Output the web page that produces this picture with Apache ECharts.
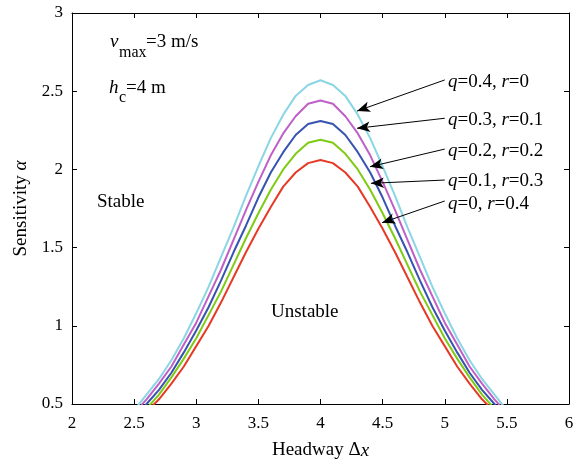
<!DOCTYPE html>
<html lang="en">
<head>
    <meta charset="UTF-8">
    <title>Sensitivity vs headway</title>
    <style>
        html,body{
            margin: 0;
            width: 100%;
            height: 100%;
            background: #fff;
        }
        #chart{
            width: 580px;
            height: 460px;
        }
    </style>
</head>
<body>
<div id="chart"></div>
<script src="https://cdn.jsdelivr.net/npm/echarts@6/dist/echarts.min.js"></script>
<script type="text/javascript">
    var serif = "'Liberation Serif', 'Times New Roman', serif";

    // headway Δx (m)
    var headway = [2.5, 2.6, 2.7, 2.8, 2.9, 3.0, 3.1, 3.2, 3.3, 3.4, 3.5, 3.6, 3.7, 3.8, 3.9, 4.0,
        4.1, 4.2, 4.3, 4.4, 4.5, 4.6, 4.7, 4.8, 4.9, 5.0, 5.1, 5.2, 5.3, 5.4, 5.5];

    // critical sensitivity for each (q, r)
    var alphaQ04 = [0.46, 0.56, 0.66, 0.78, 0.92, 1.08, 1.25, 1.44, 1.63, 1.83, 2.02, 2.20, 2.35, 2.47, 2.54, 2.57,
        2.54, 2.47, 2.35, 2.20, 2.02, 1.83, 1.63, 1.44, 1.25, 1.08, 0.92, 0.78, 0.66, 0.56, 0.46];
    var alphaQ03 = [0.44, 0.53, 0.63, 0.74, 0.88, 1.02, 1.19, 1.36, 1.55, 1.74, 1.92, 2.09, 2.23, 2.34, 2.42, 2.44,
        2.42, 2.34, 2.23, 2.09, 1.92, 1.74, 1.55, 1.36, 1.19, 1.02, 0.88, 0.74, 0.63, 0.53, 0.44];
    var alphaQ02 = [0.42, 0.50, 0.59, 0.70, 0.83, 0.97, 1.12, 1.29, 1.47, 1.64, 1.82, 1.98, 2.11, 2.22, 2.29, 2.31,
        2.29, 2.22, 2.11, 1.98, 1.82, 1.64, 1.47, 1.29, 1.12, 0.97, 0.83, 0.70, 0.59, 0.50, 0.42];
    var alphaQ01 = [0.40, 0.47, 0.56, 0.67, 0.79, 0.92, 1.07, 1.22, 1.39, 1.56, 1.72, 1.87, 2.00, 2.10, 2.17, 2.19,
        2.17, 2.10, 2.00, 1.87, 1.72, 1.56, 1.39, 1.22, 1.07, 0.92, 0.79, 0.67, 0.56, 0.47, 0.40];
    var alphaQ00 = [0.37, 0.45, 0.53, 0.63, 0.74, 0.87, 1.00, 1.15, 1.31, 1.47, 1.62, 1.76, 1.89, 1.98, 2.04, 2.06,
        2.04, 1.98, 1.89, 1.76, 1.62, 1.47, 1.31, 1.15, 1.00, 0.87, 0.74, 0.63, 0.53, 0.45, 0.37];

    var seriesNames = ['q=0.4, r=0', 'q=0.3, r=0.1', 'q=0.2, r=0.2', 'q=0.1, r=0.3', 'q=0, r=0.4'];
    var seriesColors = ['#8ad6e4', '#bf5fc8', '#3653b0', '#7fcb14', '#e63a26'];
    var seriesValues = [alphaQ04, alphaQ03, alphaQ02, alphaQ01, alphaQ00];

    // arrows: label end -> curve end (data coords)
    var arrowFrom = [[5.00, 2.572], [5.00, 2.327], [5.00, 2.130], [5.00, 1.932], [5.00, 1.798]];
    var arrowTo = [[4.294, 2.373], [4.294, 2.263], [4.398, 2.017], [4.406, 1.911], [4.495, 1.659]];

    function pairs(xs, ys) {
        var out = [];
        for (var i = 0; i < xs.length; i++) {
            out.push([xs[i], ys[i]]);
        }
        return out;
    }

    var richStyle = {
        n: {fontFamily: serif, fontSize: 19, color: '#000'},
        i: {fontFamily: serif, fontSize: 19, fontStyle: 'italic', color: '#000'}
    };

    function qrLabel(q, r) {
        return '{i|q}{n|=' + q + ', }{i|r}{n|=' + r + '}';
    }

    var arrowLines = [];
    for (var k = 0; k < arrowFrom.length; k++) {
        arrowLines.push([{coord: arrowFrom[k]}, {coord: arrowTo[k]}]);
    }

    var series = [];
    for (var s = 0; s < seriesValues.length; s++) {
        series.push({
            name: seriesNames[s],
            type: 'line',
            symbol: 'none',
            smooth: false,
            clip: true,
            lineStyle: {color: seriesColors[s], width: 2},
            data: pairs(headway, seriesValues[s])
        });
    }
    series[series.length - 1].markLine = {
        silent: true,
        animation: false,
        symbol: ['none', 'arrow'],
        symbolSize: [8, 13],
        label: {show: false},
        lineStyle: {color: '#000', width: 1, type: 'solid'},
        data: arrowLines
    };

    function textEl(x, y, txt, size, italic) {
        return {
            type: 'text',
            x: x,
            y: y,
            style: {
                text: txt,
                fill: '#000',
                fontFamily: serif,
                fontSize: size,
                fontStyle: italic ? 'italic' : 'normal',
                verticalAlign: 'middle',
                align: 'left'
            }
        };
    }

    function richEl(x, y, txt) {
        return {
            type: 'text',
            x: x,
            y: y,
            style: {
                text: txt,
                rich: richStyle,
                fontFamily: serif,
                fontSize: 19,
                verticalAlign: 'middle',
                align: 'left'
            }
        };
    }

    var axisCommon = {
        type: 'value',
        axisLine: {show: true, onZero: false, lineStyle: {color: '#000', width: 1}},
        axisTick: {show: true, inside: true, length: 5, lineStyle: {color: '#000'}},
        splitLine: {show: false}
    };

    var option = {
        backgroundColor: '#fff',
        animation: false,
        grid: {left: 72, right: 11, top: 13, bottom: 56, outerBoundsMode: 'none', containLabel: false},
        xAxis: [
            Object.assign({}, axisCommon, {
                min: 2, max: 6, interval: 0.5,
                position: 'bottom',
                axisLabel: {color: '#000', fontFamily: serif, fontSize: 17, margin: 11},
                name: '{n|Headway Δ}{i|x}',
                nameLocation: 'middle',
                nameGap: 37,
                nameTextStyle: {rich: richStyle}
            }),
            Object.assign({}, axisCommon, {
                min: 2, max: 6, interval: 0.5,
                position: 'top',
                axisLabel: {show: false}
            })
        ],
        yAxis: [
            Object.assign({}, axisCommon, {
                min: 0.5, max: 3, interval: 0.5,
                position: 'left',
                axisLabel: {color: '#000', fontFamily: serif, fontSize: 17, margin: 9},
                name: '{n|Sensitivity }{i|α}',
                nameLocation: 'middle',
                nameRotate: 90,
                nameGap: 40,
                nameTextStyle: {rich: richStyle}
            }),
            Object.assign({}, axisCommon, {
                min: 0.5, max: 3, interval: 0.5,
                position: 'right',
                axisLabel: {show: false}
            })
        ],
        series: series,
        graphic: [
            textEl(110, 42, 'v', 19, true),
            textEl(119, 53, 'max', 16, false),
            textEl(146, 42, '=3 m/s', 19, false),
            textEl(109, 88, 'h', 19, true),
            textEl(119, 98, 'c', 16, false),
            textEl(126, 88, '=4 m', 19, false),
            textEl(97, 202, 'Stable', 19, false),
            textEl(271, 312, 'Unstable', 19, false),
            richEl(448, 82, qrLabel('0.4', '0')),
            richEl(448, 120, qrLabel('0.3', '0.1')),
            richEl(448, 151, qrLabel('0.2', '0.2')),
            richEl(448, 181, qrLabel('0.1', '0.3')),
            richEl(448, 204, qrLabel('0', '0.4'))
        ]
    };

    var myChart = echarts.init(document.getElementById('chart'));
    myChart.setOption(option, true);
</script>
</body>
</html>
